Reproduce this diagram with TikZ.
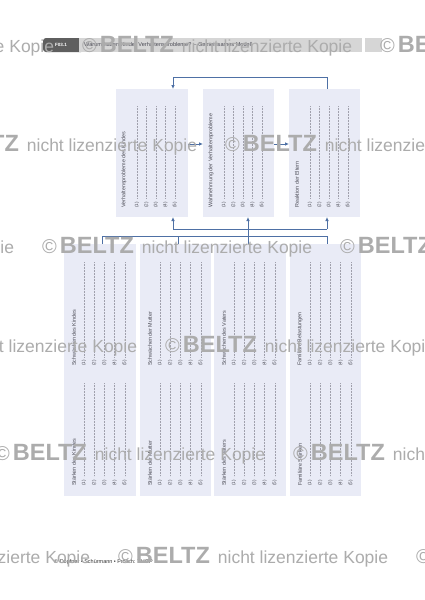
\documentclass[tikz,border=0pt]{standalone}
\usepackage{fontspec}
\setmainfont{Liberation Sans}
\usetikzlibrary{arrows.meta}
\definecolor{boxfill}{RGB}{233,235,246}
\definecolor{conncol}{RGB}{78,112,165}
\definecolor{wmgray}{RGB}{172,172,172}
\definecolor{txtgray}{RGB}{75,75,85}
\definecolor{dotgray}{RGB}{160,160,172}
\definecolor{barlight}{RGB}{214,214,214}
\definecolor{bardark}{RGB}{95,95,95}
\newcommand{\colset}[8]{%
  \node[ttl] at ({#1+#2},#7) {#8};
  \foreach \k in {1,...,5}{
    \draw[dl] ({#1+#3+(\k-1)*#4},#5) -- ({#1+#3+(\k-1)*#4},#6);
    \node[num] at ({#1+#3+(\k-1)*#4},#7) {(\k)};
  }
}
\newcommand{\wmtext}{{\fontsize{20}{20}\selectfont ©}\hspace{3pt}{\fontsize{23.5}{24}\selectfont\bfseries BELTZ}\hspace{8pt}{\fontsize{17.5}{18}\selectfont nicht lizenzierte Kopie}}
\begin{document}
\begin{tikzpicture}[x=1pt,y=-1pt,
  panel/.style={fill=boxfill, draw=none, inner sep=0pt, outer sep=0pt, anchor=north west},
  conn/.style={draw=conncol, line width=0.8pt},
  arr/.style={-{Latex[length=4pt,width=3.6pt]}},
  ttl/.style={rotate=90, anchor=west, font=\fontsize{5.4}{6}\selectfont, text=txtgray, inner sep=0pt},
  num/.style={rotate=90, anchor=west, font=\fontsize{4.6}{5}\selectfont, text=txtgray, inner sep=0pt},
  dl/.style={draw=dotgray, line width=0.4pt, dash pattern=on 0.4pt off 1.1pt},
  wm/.style={anchor=base west, text=wmgray, inner sep=0pt}
]
\fill[white] (0,0) rectangle (424,600);
\useasboundingbox (0,0) rectangle (424,600);

% header
\fill[bardark, rounded corners=3pt] (43,38) rectangle (84,52);
\fill[barlight] (79,38) rectangle (362,52);
\fill[barlight] (365,38) rectangle (382,52);
\node[font=\fontsize{4.6}{5}\selectfont\bfseries, text=white, inner sep=0pt] (tag) at (61,45) {F03.1};
\node[anchor=west, font=\fontsize{5.6}{6}\selectfont, text=txtgray, inner sep=0pt] (hdr) at (84,45) {Warum haben Kinder Verhaltensprobleme? – Gemeinsames Modell};

% top panels
\node[panel, minimum width=72pt, minimum height=128pt] (t1) at (116,89) {};
\node[panel, minimum width=71pt, minimum height=128pt] (t2) at (203,89) {};
\node[panel, minimum width=71pt, minimum height=128pt] (t3) at (289,89) {};
\colset{116}{8}{21}{9.5}{106}{198}{208}{Verhaltensprobleme des Kindes}
\colset{203}{8}{21}{9.5}{106}{198}{208}{Wahrnehmung der Verhaltensprobleme}
\colset{289}{8}{21}{9.5}{106}{198}{208}{Reaktion der Eltern}

% bottom panels
\node[panel, minimum width=72pt, minimum height=252pt] (b1) at (64,244) {};
\node[panel, minimum width=71pt, minimum height=252pt] (b2) at (140,244) {};
\node[panel, minimum width=72pt, minimum height=252pt] (b3) at (214,244) {};
\node[panel, minimum width=71pt, minimum height=252pt] (b4) at (290,244) {};
\colset{64}{10}{20}{10.2}{262}{357}{366}{Schwächen des Kindes}
\colset{64}{10}{20}{10.2}{383}{476}{486}{Stärken des Kindes}
\colset{140}{10}{20}{10.2}{262}{357}{366}{Schwächen der Mutter}
\colset{140}{10}{20}{10.2}{383}{476}{486}{Stärken der Mutter}
\colset{214}{10}{20}{10.2}{262}{357}{366}{Schwächen des Vaters}
\colset{214}{10}{20}{10.2}{383}{476}{486}{Stärken des Vaters}
\colset{290}{10}{20}{10.2}{262}{357}{366}{Familiäre Belastungen}
\colset{290}{10}{20}{10.2}{383}{476}{486}{Familiäre Stärken}

% connectors
\coordinate (fbL) at (173,77);
\coordinate (fbR) at (327,77);
\draw[conn,arr] (fbR |- t3.north) -- (fbR) -- (fbL) -- (fbL |- t1.north);
\coordinate (hA) at (0,144);
\draw[conn,arr] (t1.east |- hA) -- (t2.west |- hA);
\draw[conn,arr] (t2.east |- hA) -- (t3.west |- hA);
\coordinate (ubL) at (173,229);
\coordinate (ubM) at (248,229);
\coordinate (ubR) at (327,229);
\draw[conn] (ubL) -- (ubR);
\draw[conn,arr] (ubL) -- (ubL |- t1.south);
\draw[conn,arr] (ubM) -- (ubM |- t2.south);
\draw[conn,arr] (ubR) -- (ubR |- t3.south);
\coordinate (lbL) at (102,236);
\coordinate (lbB) at (178,236);
\coordinate (lbR) at (327,236);
\draw[conn] (lbL |- b1.north) -- (lbL) -- (lbR) -- (lbR |- b4.north);
\draw[conn] (lbB) -- (lbB |- b2.north);
\draw[conn] (ubM) -- (ubM |- b3.north);

% footer
\node[anchor=base west, font=\fontsize{5.5}{6}\selectfont, text=black!80, inner sep=0pt] (foot) at (54,563) {© Döpfner • Schürmann • Frölich: THOP};

% watermark
\begin{scope}
\clip (0,0) rectangle (424,600);
\foreach \cx/\by [count=\r] in {82/52, 225/151, 42/253, 165/352, -5/460, 118/563}{
  \foreach \d [count=\j] in {-298,0,298}{
    \node[wm] (wm\r\j) at ({\cx+\d},\by) {\wmtext};
  }
}
\end{scope}
\end{tikzpicture}
\end{document}
